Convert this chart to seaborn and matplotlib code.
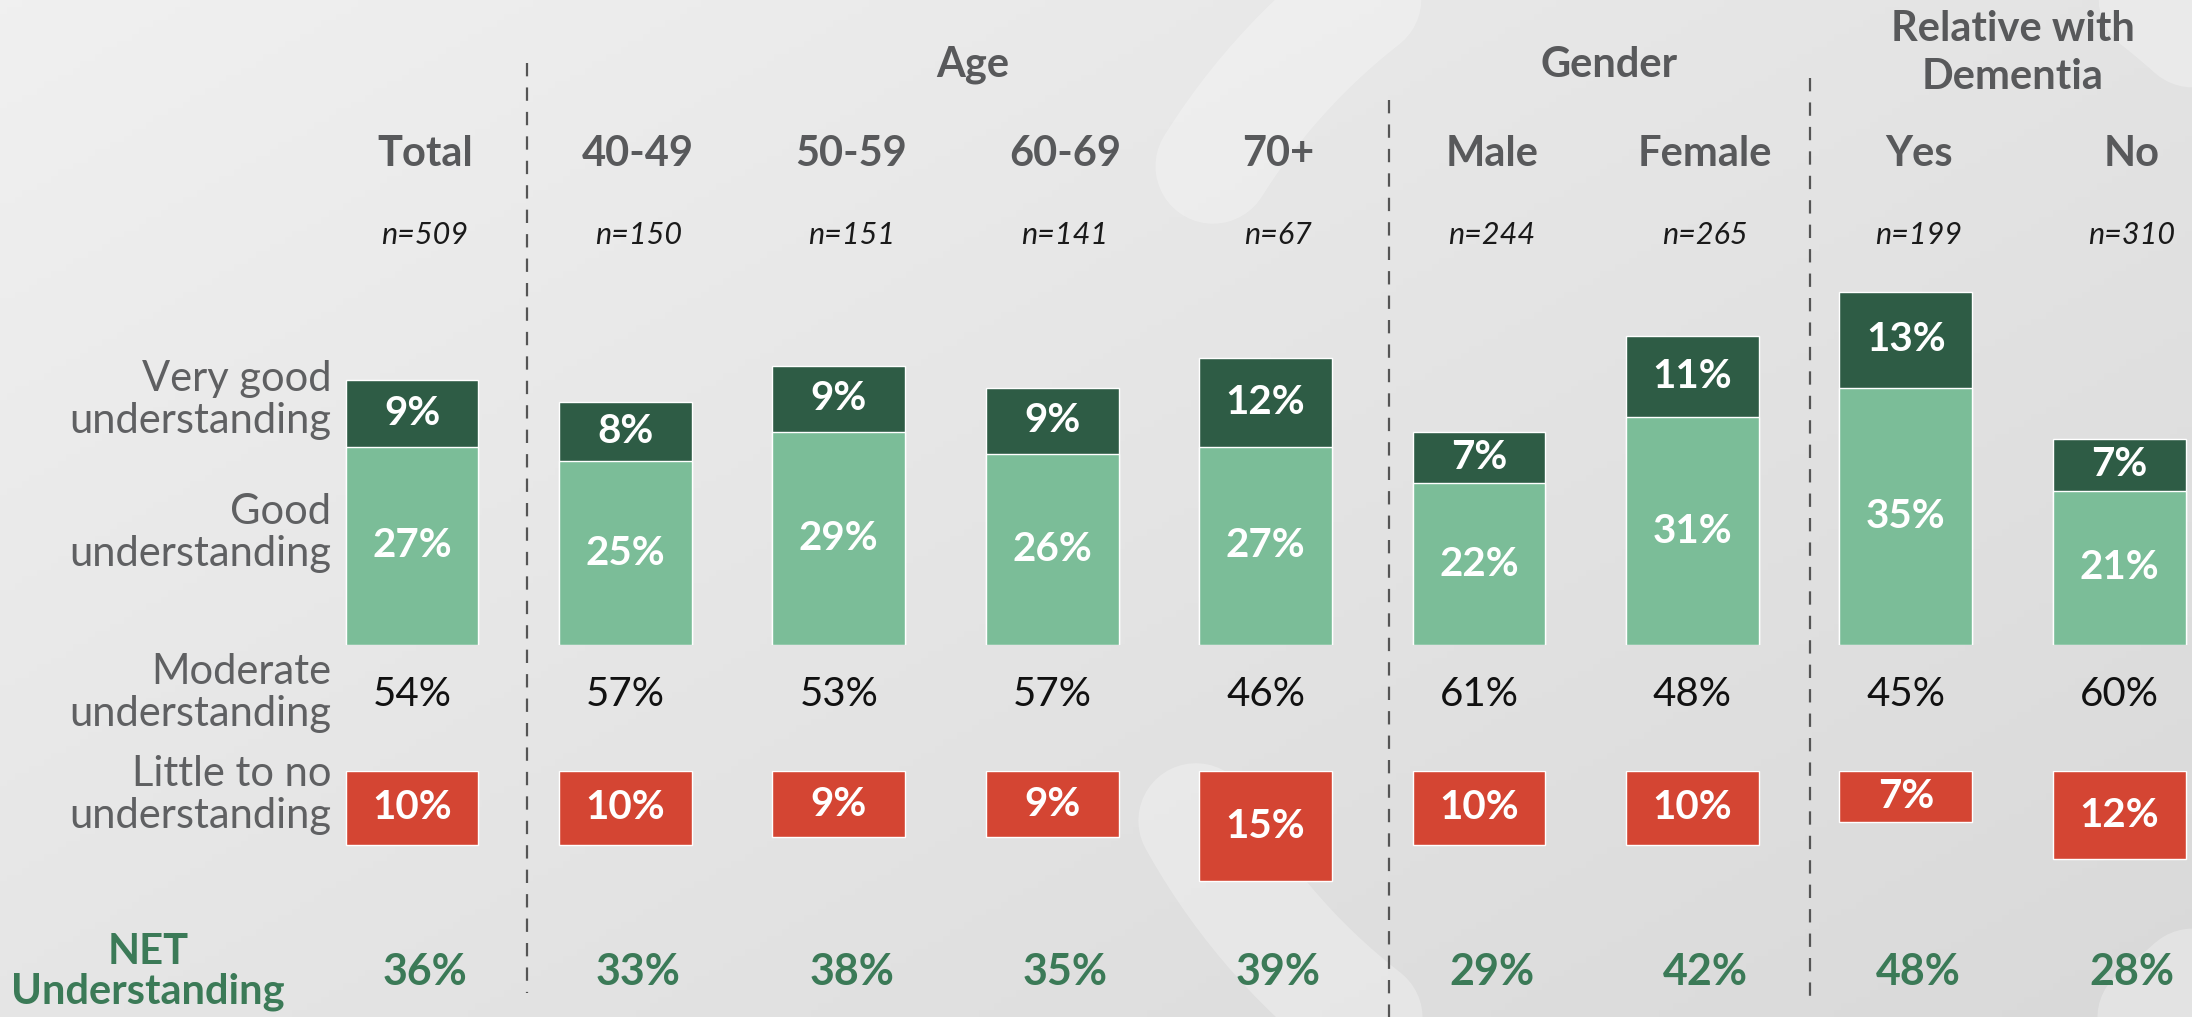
import numpy as np
import pandas as pd
import matplotlib
matplotlib.use("Agg")
import matplotlib.pyplot as plt
import seaborn as sns
from matplotlib.transforms import blended_transform_factory

# ---------------- data ----------------
categories = ["Total", "40-49", "50-59", "60-69", "70+", "Male", "Female", "Yes", "No"]
sample_sizes = ["n=509", "n=150", "n=151", "n=141", "n=67", "n=244", "n=265", "n=199", "n=310"]
very_good = [9, 8, 9, 9, 12, 7, 11, 13, 7]
good = [27, 25, 29, 26, 27, 22, 31, 35, 21]
moderate = [54, 57, 53, 57, 46, 61, 48, 45, 60]
little = [10, 10, 9, 9, 15, 10, 10, 7, 12]
net = [36, 33, 38, 35, 39, 29, 42, 48, 28]
groups = ["Age", "Gender", "Relative with\nDementia"]
row_labels = ["Very good\nunderstanding", "Good\nunderstanding",
              "Moderate\nunderstanding", "Little to no\nunderstanding"]

DARK = "#2e5c45"
LIGHT = "#7bbd98"
RED = "#d44533"
NETG = "#3b7a57"
GREY = "#58595b"
LGREY = "#5f6062"

W, H = 2192, 1017
sns.set_theme(style="white")
plt.rcParams["font.family"] = ["Lato", "DejaVu Sans"]

fig = plt.figure(figsize=(W / 100, H / 100), dpi=100)

# ---------------- background ----------------
bg = fig.add_axes([0, 0, 1, 1])
bg.set_xlim(0, W)
bg.set_ylim(H, 0)
bg.axis("off")
gx = np.linspace(0, 1, 300)
gy = np.linspace(0, 1, 150)
GX, GY = np.meshgrid(gx, gy)
grad = 0.55 * GX + 0.45 * GY
bg.imshow(grad, extent=[0, W, H, 0], cmap=matplotlib.colors.LinearSegmentedColormap.from_list(
    "bgc", ["#f0f0f0", "#d9d9d9"]), aspect="auto", zorder=0)
# decorative swirl (ring)
t = np.radians(np.linspace(212, 511, 400))
cx, cy, r = 1760, 508, 645
bg.plot(cx + r * np.cos(t), cy + r * np.sin(t), color="white", alpha=0.28,
        lw=115 * 0.72, solid_capstyle="round", zorder=1)

# ---------------- axes ----------------
def fy(px):
    return 1 - px / H

step = 213.4
left = (412 - step / 2) / W
width = 9 * step / W
base_px, top_px = 645, 645 - 60 * 7.35
ax = fig.add_axes([left, fy(base_px), width, (base_px - top_px) / H])
red_top = 771
axr = fig.add_axes([left, fy(red_top + 20 * 7.35), width, 20 * 7.35 / H])

df = pd.DataFrame({"cat": categories, "vg": very_good, "good": good,
                   "total": np.array(very_good) + np.array(good), "little": little})

sns.barplot(data=df, x="cat", y="total", color=DARK, saturation=1, width=0.623, ax=ax)
sns.barplot(data=df, x="cat", y="good", color=LIGHT, saturation=1, width=0.623, ax=ax)
ax.set_ylim(0, 60)
ax.set_xlim(-0.5, 8.5)

sns.barplot(data=df, x="cat", y="little", color=RED, saturation=1, width=0.623, ax=axr)
axr.set_ylim(20, 0)
axr.set_xlim(-0.5, 8.5)

for a in (ax, axr):
    a.axis("off")
    a.patch.set_alpha(0)

# bar labels
for i in range(len(categories)):
    ax.text(i, good[i] + very_good[i] / 2, f"{very_good[i]}%", ha="center", va="center",
            color="white", fontsize=29, fontweight="bold")
    ax.text(i, good[i] / 2, f"{good[i]}%", ha="center", va="center",
            color="white", fontsize=29, fontweight="bold")
    axr.text(i, little[i] / 2, f"{little[i]}%", ha="center", va="center",
             color="white", fontsize=29, fontweight="bold")

T = blended_transform_factory(ax.transData, fig.transFigure)
off = 0.06
for i in range(len(categories)):
    ax.text(i + off, fy(154), categories[i], transform=T, ha="center", va="center",
            color=GREY, fontsize=30, fontweight="bold")
    ax.text(i + off, fy(235), sample_sizes[i], transform=T, ha="center", va="center",
            color="#1a1a1a", fontsize=22, style="italic")
    ax.text(i, fy(695), f"{moderate[i]}%", transform=T, ha="center", va="center",
            color="#111111", fontsize=29)
    ax.text(i + off, fy(972), f"{net[i]}%", transform=T, ha="center", va="center",
            color=NETG, fontsize=31, fontweight="bold")

# group headers
group_x = [2.63, 5.61, 7.5]
group_y = [65, 65, 53]
for g, gxp, gyp in zip(groups, group_x, group_y):
    ax.text(gxp, fy(gyp), g, transform=T, ha="center", va="center", color=GREY,
            fontsize=30, fontweight="bold", linespacing=1.3)

# dividers
div_x = [0.54, 4.58, 6.55]
div_y = [(63, 993), (100, 1017), (78, 1002)]
for dx, (y0, y1) in zip(div_x, div_y):
    ax.plot([dx, dx], [fy(y0), fy(y1)], transform=T, color="#555555", lw=1.6,
            ls=(0, (6, 5)), clip_on=False)

# row labels
row_y = [400, 533, 693, 795]
for lab, yy in zip(row_labels, row_y):
    fig.text(331 / W, fy(yy), lab, ha="right", va="center", color=LGREY,
             fontsize=30, fontweight="normal", linespacing=1.15)
fig.text(148 / W, fy(972), "NET\nUnderstanding", ha="center", va="center", color=NETG,
         fontsize=30, fontweight="bold", linespacing=1.05)

fig.savefig("out.png", dpi=100)
